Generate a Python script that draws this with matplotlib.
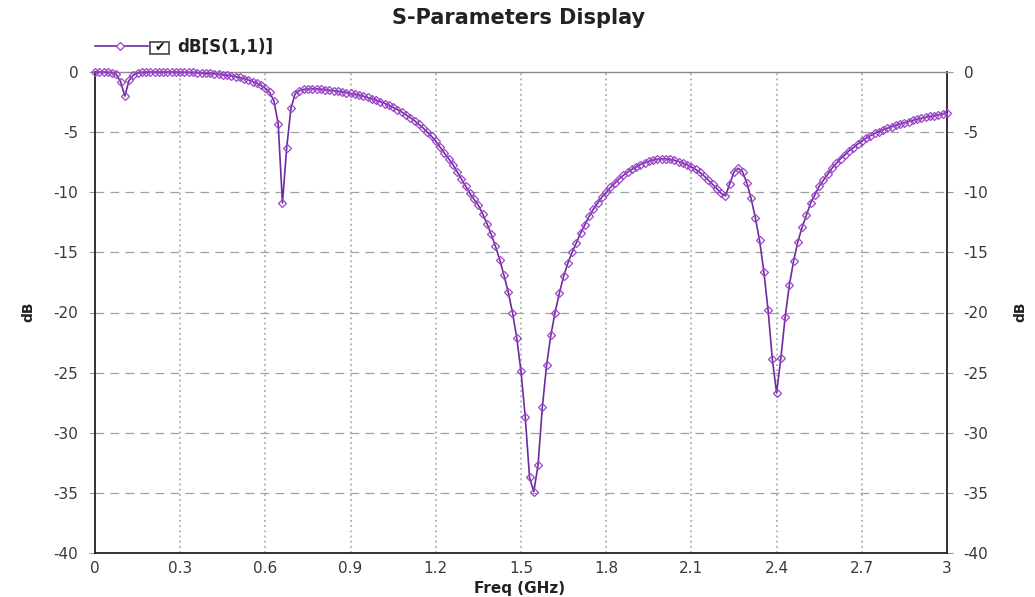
"""S-parameter return loss plot."""

# ---------- Imports ---------- #
import matplotlib

matplotlib.use("Agg")
import matplotlib.pyplot as plt
from matplotlib.lines import Line2D
from matplotlib.patches import Rectangle

# ---------- Data ---------- #
freq_ghz = [
    0.000, 0.015, 0.030, 0.045, 0.060, 0.075, 0.090, 0.105, 0.120, 0.135,
    0.150, 0.165, 0.180, 0.195, 0.210, 0.225, 0.240, 0.255, 0.270, 0.285,
    0.300, 0.315, 0.330, 0.345, 0.360, 0.375, 0.390, 0.405, 0.420, 0.435,
    0.450, 0.465, 0.480, 0.495, 0.510, 0.525, 0.540, 0.555, 0.570, 0.585,
    0.600, 0.615, 0.630, 0.645, 0.660, 0.675, 0.690, 0.705, 0.720, 0.735,
    0.750, 0.765, 0.780, 0.795, 0.810, 0.825, 0.840, 0.855, 0.870, 0.885,
    0.900, 0.915, 0.930, 0.945, 0.960, 0.975, 0.990, 1.005, 1.020, 1.035,
    1.050, 1.065, 1.080, 1.095, 1.110, 1.125, 1.140, 1.155, 1.170, 1.185,
    1.200, 1.215, 1.230, 1.245, 1.260, 1.275, 1.290, 1.305, 1.320, 1.335,
    1.350, 1.365, 1.380, 1.395, 1.410, 1.425, 1.440, 1.455, 1.470, 1.485,
    1.500, 1.515, 1.530, 1.545, 1.560, 1.575, 1.590, 1.605, 1.620, 1.635,
    1.650, 1.665, 1.680, 1.695, 1.710, 1.725, 1.740, 1.755, 1.770, 1.785,
    1.800, 1.815, 1.830, 1.845, 1.860, 1.875, 1.890, 1.905, 1.920, 1.935,
    1.950, 1.965, 1.980, 1.995, 2.010, 2.025, 2.040, 2.055, 2.070, 2.085,
    2.100, 2.115, 2.130, 2.145, 2.160, 2.175, 2.190, 2.205, 2.220, 2.235,
    2.250, 2.265, 2.280, 2.295, 2.310, 2.325, 2.340, 2.355, 2.370, 2.385,
    2.400, 2.415, 2.430, 2.445, 2.460, 2.475, 2.490, 2.505, 2.520, 2.535,
    2.550, 2.565, 2.580, 2.595, 2.610, 2.625, 2.640, 2.655, 2.670, 2.685,
    2.700, 2.715, 2.730, 2.745, 2.760, 2.775, 2.790, 2.805, 2.820, 2.835,
    2.850, 2.865, 2.880, 2.895, 2.910, 2.925, 2.940, 2.955, 2.970, 2.985,
    3.000,
]

s11_db = [
    0.0, 0.0, 0.0, -0.02, -0.05, -0.2, -0.8, -2.0, -0.7, -0.25,
    -0.08, -0.03, 0.0, 0.0, 0.0, 0.0, 0.0, 0.0, 0.0, 0.0,
    -0.01, -0.02, -0.03, -0.04, -0.06, -0.08, -0.10, -0.12, -0.15, -0.18,
    -0.22, -0.27, -0.32, -0.38, -0.45, -0.55, -0.66, -0.80, -0.95, -1.12,
    -1.35, -1.70, -2.40, -4.30, -10.9, -6.3, -3.0, -1.8, -1.55, -1.45,
    -1.40, -1.38, -1.40, -1.43, -1.47, -1.51, -1.55, -1.60, -1.65, -1.71,
    -1.78, -1.85, -1.93, -2.02, -2.12, -2.23, -2.35, -2.48, -2.62, -2.78,
    -2.95, -3.13, -3.33, -3.55, -3.80, -4.05, -4.35, -4.65, -5.00, -5.35,
    -5.75, -6.25, -6.75, -7.20, -7.70, -8.30, -8.90, -9.50, -10.1, -10.6,
    -11.1, -11.8, -12.6, -13.5, -14.5, -15.6, -16.9, -18.3, -20.0, -22.1,
    -24.9, -28.7, -33.7, -34.9, -32.7, -27.9, -24.4, -21.9, -20.0, -18.4,
    -17.0, -15.9, -15.0, -14.2, -13.4, -12.7, -12.0, -11.4, -10.9, -10.4,
    -10.0, -9.6, -9.25, -8.9, -8.6, -8.35, -8.1, -7.9, -7.7, -7.55,
    -7.42, -7.32, -7.25, -7.22, -7.22, -7.27, -7.35, -7.45, -7.58, -7.72,
    -7.90, -8.10, -8.35, -8.65, -9.00, -9.35, -9.70, -10.1, -10.3, -9.3,
    -8.3, -8.0, -8.3, -9.2, -10.5, -12.1, -14.0, -16.6, -19.8, -23.9,
    -26.7, -23.8, -20.4, -17.7, -15.7, -14.1, -12.9, -11.9, -10.9, -10.2,
    -9.5, -9.0, -8.5, -8.0, -7.6, -7.2, -6.9, -6.55, -6.3, -6.0,
    -5.75, -5.5, -5.3, -5.1, -4.95, -4.8, -4.67, -4.55, -4.43, -4.32,
    -4.22, -4.12, -4.02, -3.93, -3.85, -3.77, -3.69, -3.62, -3.55, -3.48,
    -3.42,
]

x_ticks = [0, 0.3, 0.6, 0.9, 1.2, 1.5, 1.8, 2.1, 2.4, 2.7, 3.0]
x_tick_labels = ["0", "0.3", "0.6", "0.9", "1.2", "1.5", "1.8", "2.1", "2.4", "2.7", "3"]
y_ticks = [0, -5, -10, -15, -20, -25, -30, -35, -40]
y_tick_labels = ["0", "-5", "-10", "-15", "-20", "-25", "-30", "-35", "-40"]

# ---------- Style ---------- #
W, H = 1035, 597
LINE_COLOR = "#6f2a9e"
MARKER_COLOR = "#9b45c8"
GRID_COLOR = "#a0a0a0"
TEXT_COLOR = "#3a3a3a"

plt.rcParams["font.family"] = ["DejaVu Sans"]
plt.rcParams["axes.unicode_minus"] = False


def fx(px):
    return px / W


def fy(py):
    return 1 - py / H


# ---------- Plot ---------- #
fig = plt.figure(figsize=(W / 100, H / 100), dpi=100)
ax = fig.add_axes([fx(95), fy(553), fx(947) - fx(95), fy(72) - fy(553)])

ax.plot(
    freq_ghz,
    s11_db,
    color=LINE_COLOR,
    lw=1.2,
    marker="D",
    markersize=4.4,
    markerfacecolor="none",
    markeredgecolor=MARKER_COLOR,
    markeredgewidth=0.9,
    clip_on=False,
    zorder=5,
)

ax.set_xlim(0, 3)
ax.set_ylim(-40, 0)
ax.set_xticks(x_ticks)
ax.set_xticklabels(x_tick_labels)
ax.set_yticks(y_ticks)
ax.set_yticklabels(y_tick_labels)

# grid: dashed horizontal, dotted vertical (skip the frame lines)
for y in y_ticks[1:-1]:
    ax.axhline(y, color=GRID_COLOR, lw=0.9, ls=(0, (7, 5)), zorder=1)
for x in x_ticks[1:-1]:
    ax.axvline(x, color=GRID_COLOR, lw=1.1, ls=(0, (1.2, 2.2)), zorder=1)

for side in ["left", "bottom", "right"]:
    ax.spines[side].set_color("#222222")
    ax.spines[side].set_linewidth(1.3)
ax.spines["top"].set_color("#8a8a8a")
ax.spines["top"].set_linewidth(1.0)

ax.tick_params(axis="x", length=0, pad=6, labelsize=11, labelcolor=TEXT_COLOR)
ax.tick_params(
    axis="y",
    length=4,
    color="#999999",
    pad=8,
    labelsize=11,
    labelcolor=TEXT_COLOR,
    left=True,
    right=True,
    labelleft=True,
    labelright=True,
)

fig.text(fx(520), fy(589), "Freq (GHz)", fontsize=11, fontweight="bold",
         ha="center", va="center", color="#222222")
fig.text(fx(28), fy(312), "dB", rotation=90, fontsize=10, fontweight="bold",
         ha="center", va="center", color="#222222")
fig.text(fx(1020), fy(312), "dB", rotation=90, fontsize=10, fontweight="bold",
         ha="center", va="center", color="#222222")

fig.text(fx(519), fy(18), "S-Parameters Display", fontsize=15, fontweight="bold",
         ha="center", va="center", color="#222222")

# ---------- Legend ---------- #
fig.add_artist(Line2D([fx(95), fx(148)], [fy(46), fy(46)], transform=fig.transFigure,
                      color=LINE_COLOR, lw=1.2))
fig.add_artist(Line2D([fx(120)], [fy(46)], transform=fig.transFigure, marker="D",
                      markersize=4.4, markerfacecolor="white",
                      markeredgecolor=MARKER_COLOR, markeredgewidth=0.9))
fig.add_artist(Rectangle((fx(150), fy(54)), fx(169) - fx(150), fy(42) - fy(54),
                         transform=fig.transFigure, facecolor="white",
                         edgecolor="#444444", lw=1.2))
fig.text(fx(160), fy(48), "\u2714", fontsize=9, ha="center", va="center", color="#111111")
fig.text(fx(177), fy(47), "dB[S(1,1)]", fontsize=12, fontweight="bold",
         ha="left", va="center", color="#222222")

fig.savefig("out.png", dpi=100, facecolor="white")
